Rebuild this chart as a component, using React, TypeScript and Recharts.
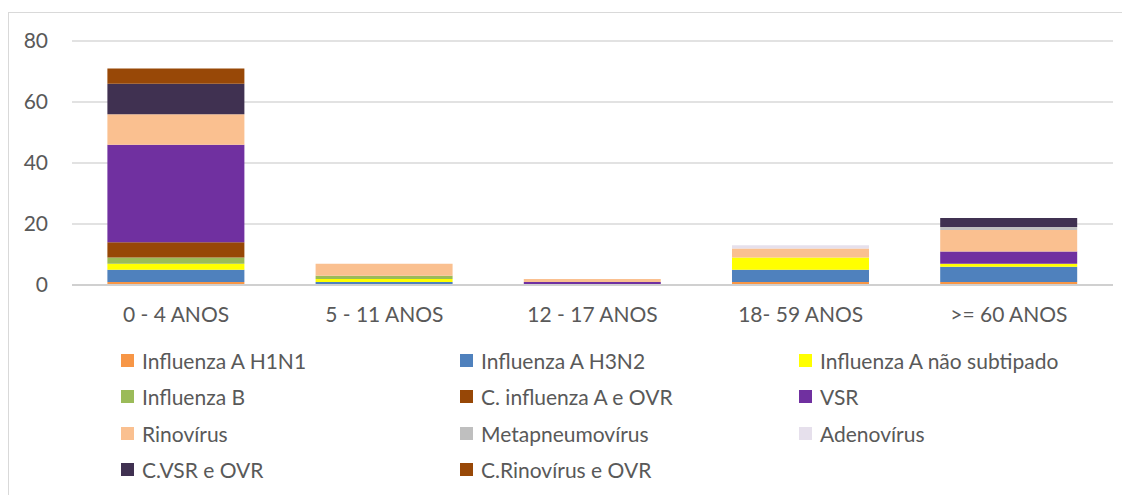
import { BarChart, Bar, XAxis, YAxis, CartesianGrid, Legend } from 'recharts';

const categories = ['0 - 4 ANOS', '5 - 11 ANOS', '12 - 17 ANOS', '18- 59 ANOS', '>= 60 ANOS'];

const h1n1 = [1, 0, 0, 1, 1];
const h3n2 = [4, 1, 0, 4, 5];
const naoSubtipado = [2, 1, 0, 4, 1];
const influenzaB = [2, 1, 0, 0, 0];
const coInfluenzaOvr = [5, 0, 0, 0, 0];
const vsr = [32, 0, 1, 0, 4];
const rinovirus = [10, 4, 1, 3, 7];
const metapneumo = [0, 0, 0, 0, 1];
const adenovirus = [0, 0, 0, 1, 0];
const coVsrOvr = [10, 0, 0, 0, 3];
const coRinoOvr = [5, 0, 0, 0, 0];

const yTicks = [0, 20, 40, 60, 80];

const series = [
    { key: 'h1n1', name: 'Influenza A H1N1', color: '#F79646', values: h1n1 },
    { key: 'h3n2', name: 'Influenza A H3N2', color: '#4F81BD', values: h3n2 },
    { key: 'nao', name: 'Influenza A não subtipado', color: '#FFFF00', values: naoSubtipado },
    { key: 'b', name: 'Influenza B', color: '#9BBB59', values: influenzaB },
    { key: 'cinf', name: 'C. influenza A e OVR', color: '#974706', values: coInfluenzaOvr },
    { key: 'vsr', name: 'VSR', color: '#7030A0', values: vsr },
    { key: 'rino', name: 'Rinovírus', color: '#FAC090', values: rinovirus },
    { key: 'meta', name: 'Metapneumovírus', color: '#BFBFBF', values: metapneumo },
    { key: 'adeno', name: 'Adenovírus', color: '#E6E0EC', values: adenovirus },
    { key: 'cvsr', name: 'C.VSR e OVR', color: '#403151', values: coVsrOvr },
    { key: 'crino', name: 'C.Rinovírus e OVR', color: '#984807', values: coRinoOvr },
];

const data = categories.map((cat, i) => {
    const row: any = { cat };
    series.forEach(s => { row[s.key] = s.values[i]; });
    return row;
});

const FONT = 'Lato, "Open Sans", sans-serif';
const FS = 21;

function LegendBox() {
    return (
        <div style={{
            height: 153, boxSizing: 'border-box', paddingLeft: 112,
            display: 'grid', gridTemplateColumns: '339px 339px 339px', gridAutoRows: '36.5px',
            fontFamily: FONT, fontSize: FS, color: '#595959',
        }}>
            {series.map(s => (
                <div key={s.key} style={{ display: 'flex', alignItems: 'center', whiteSpace: 'nowrap' }}>
                    <span style={{ width: 13, height: 13, background: s.color, display: 'inline-block', marginRight: 8 }} />
                    {s.name}
                </div>
            ))}
        </div>
    );
}

export default function App() {
    return (
        <div style={{ marginTop: 4, borderLeft: '1px solid #d9d9d9', borderTop: '1px solid #d9d9d9', width: 1121, height: 482, background: '#fff' }}>
            <BarChart width={1121} height={482} data={data} margin={{ top: 28, right: 17, left: 0, bottom: 0 }} barCategoryGap="17%">
                <CartesianGrid vertical={false} stroke="#d9d9d9" strokeWidth={1.5} />
                <XAxis dataKey="cat" height={57} tickLine={false} tickSize={0} tickMargin={22}
                    axisLine={{ stroke: '#d0d0d0', strokeWidth: 2 }}
                    tick={{ fill: '#595959', fontSize: FS, fontFamily: FONT }} />
                <YAxis width={63} domain={[0, 80]} ticks={yTicks} axisLine={false} tickLine={false} tickSize={0} tickMargin={24}
                    tick={{ fill: '#595959', fontSize: FS, fontFamily: FONT }} />
                <Legend verticalAlign="bottom" content={() => <LegendBox />} />
                {series.map(s => (
                    <Bar key={s.key} dataKey={s.key} name={s.name} stackId="a" fill={s.color} isAnimationActive={false} />
                ))}
            </BarChart>
        </div>
    );
}
